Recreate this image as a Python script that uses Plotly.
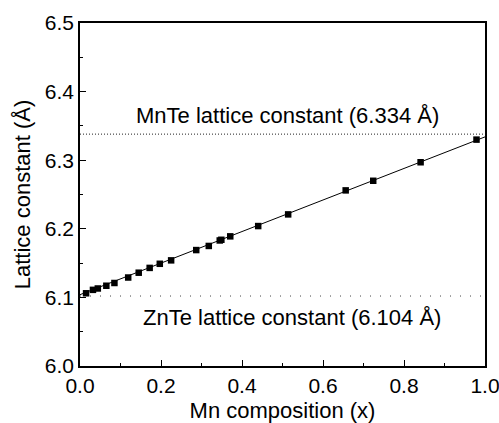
import plotly.graph_objects as go

# Data
mn_x = [0.015, 0.032, 0.044, 0.065, 0.085, 0.119, 0.145, 0.172, 0.197, 0.225,
        0.287, 0.318, 0.345, 0.349, 0.371, 0.440, 0.514, 0.656, 0.724, 0.841, 0.979]
lattice = [6.106, 6.111, 6.113, 6.117, 6.121, 6.129, 6.136, 6.143, 6.149, 6.154,
           6.169, 6.175, 6.183, 6.184, 6.189, 6.204, 6.221, 6.256, 6.270, 6.297, 6.330]

vegard_x = [0.0, 1.0]
vegard_y = [6.104, 6.334]

mnte_level = 6.338
znte_level = 6.102
mnte_label = "MnTe lattice constant (6.334 Å)"
znte_label = "ZnTe lattice constant (6.104 Å)"

font = "Liberation Sans, Arial, sans-serif"

fig = go.Figure()
fig.add_trace(go.Scatter(x=[0.0, 1.0], y=[mnte_level, mnte_level], mode="lines",
                         line=dict(color="#222", width=1, dash="1px,2px"), showlegend=False))
fig.add_trace(go.Scatter(x=[0.0, 1.0], y=[znte_level, znte_level], mode="lines",
                         line=dict(color="#444", width=1, dash="1px,9px"), showlegend=False))
fig.add_trace(go.Scatter(x=vegard_x, y=vegard_y, mode="lines",
                         line=dict(color="black", width=1), showlegend=False))
fig.add_trace(go.Scatter(x=mn_x, y=lattice, mode="markers",
                         marker=dict(symbol="square", size=6.5, color="black"), showlegend=False))

fig.add_annotation(x=0.512, y=6.365, xref="x", yref="y", text=mnte_label, showarrow=False,
                   font=dict(family=font, size=22, color="black"))
fig.add_annotation(x=0.524, y=6.070, xref="x", yref="y", text=znte_label, showarrow=False,
                   font=dict(family=font, size=22, color="black"))

axis_common = dict(showline=True, linecolor="black", linewidth=1.5, mirror=True,
                   ticks="inside", ticklen=6, tickwidth=1, tickcolor="black",
                   showgrid=False, zeroline=False, automargin=False,
                   ticklabeloverflow="allow",
                   tickfont=dict(family=font, size=21, color="black"),
                   title_font=dict(family=font, size=22, color="black"),
                   tickformat=".1f")

fig.update_xaxes(range=[0, 1.0], dtick=0.2, tick0=0,
                 minor=dict(ticks="inside", ticklen=3, dtick=0.1, tickcolor="black"),
                 title_text="Mn composition (x)", title_standoff=14, **axis_common)
fig.update_yaxes(range=[6.0, 6.5], dtick=0.1, tick0=6.0,
                 minor=dict(ticks="inside", ticklen=3, dtick=0.05, tickcolor="black"),
                 title_text="Lattice constant (Å)", title_standoff=8, **axis_common)

fig.update_layout(width=499, height=423, margin=dict(l=80, r=14, t=23, b=57),
                  plot_bgcolor="white", paper_bgcolor="white")

fig.write_html("out.html")
